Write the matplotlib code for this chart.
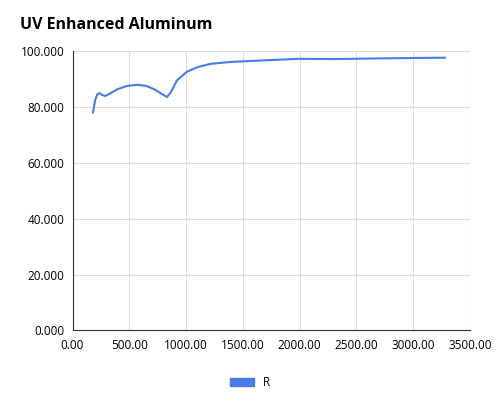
import matplotlib.pyplot as plt
from matplotlib.patches import Patch

# wavelength (nm) and reflectance (%)
wavelength = [180, 200, 220, 240, 265, 290, 330, 400, 480, 570, 650, 720, 780, 833, 870, 920,
              1008, 1100, 1214, 1400, 1653, 2000, 2300, 2600, 3000, 3280]
reflectance = [78.0, 82.5, 84.6, 84.9, 84.2, 83.9, 84.8, 86.4, 87.5, 87.9, 87.5, 86.3, 84.8, 83.5,
               85.5, 89.5, 92.6, 94.2, 95.4, 96.1, 96.6, 97.2, 97.1, 97.3, 97.5, 97.6]

plt.rcParams['font.family'] = ['Open Sans', 'DejaVu Sans']
fig, ax = plt.subplots(figsize=(5.0, 4.08), dpi=100)
fig.subplots_adjust(left=0.145, right=0.94, top=0.875, bottom=0.19)

ax.plot(wavelength, reflectance, color='#4a7bea', linewidth=1.5)
ax.set_xlim(0, 3500)
ax.set_ylim(0, 100)
ax.set_xticks(range(0, 3501, 500))
ax.set_xticklabels([f"{v:.2f}" for v in range(0, 3501, 500)], fontsize=8.5)
ax.set_yticks(range(0, 101, 20))
ax.set_yticklabels([f"{v:.3f}" for v in range(0, 101, 20)], fontsize=8.5)
ax.grid(color='#dddddd', linewidth=0.8)
for s in ['top', 'right']:
    ax.spines[s].set_visible(False)
ax.spines['left'].set_color('#333333')
ax.spines['bottom'].set_color('#333333')
ax.tick_params(length=0, pad=6)

fig.text(0.04, 0.93, "UV Enhanced Aluminum", fontsize=11.5, fontweight='bold')
fig.legend(handles=[Patch(color='#4a7bea', label='R')], loc='lower center',
           bbox_to_anchor=(0.5, 0.02), frameon=False, fontsize=8.5, handlelength=2.0)

plt.savefig("out.png")
